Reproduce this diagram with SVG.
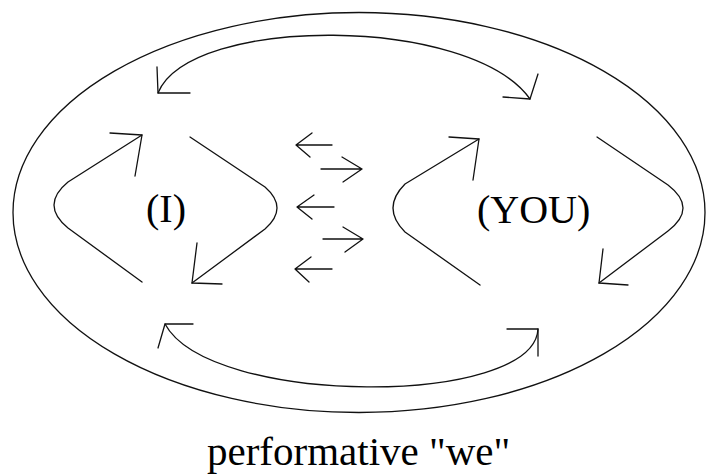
<svg xmlns="http://www.w3.org/2000/svg" width="706" height="475" viewBox="0 0 706 475">
<style>
.ln{fill:none;stroke:#111;stroke-width:1.3;stroke-linecap:round;stroke-linejoin:round}
text{font-family:'Liberation Serif','DejaVu Serif',serif;fill:#000}
</style>
<rect width="706" height="475" fill="#fff"/>
<g id="we">
<ellipse class="ln" cx="359" cy="212.5" rx="346" ry="200"/>
<text x="207" y="465" font-size="41" font-family="Liberation Serif, serif">performative "we"</text>
</g>
<g id="node-I">
<text x="146" y="222" font-size="40" font-family="Liberation Serif, serif">(I)</text>
</g>
<g id="node-YOU">
<text x="477" y="223" font-size="40" font-family="Liberation Serif, serif">(YOU)</text>
</g>
<g id="connectors" class="ln">
<path d="M158,93 C190,15 470,15 530,99"/>
<path d="M157,67 L158,93 L190,93"/>
<path d="M503,97 L530,99 L538,74"/>
<path d="M165,324 C210,407 534,407 538,329"/>
<path d="M193,324 L165,324 L158,348"/>
<path d="M507,329 L538,329 L538,356"/>
<path d="M142,135 L68,182 Q40,205 68,228 L142,282"/>
<path d="M110,133 L142,135 L135,176"/>
<path d="M190,137 L265,187 Q289,208 265,229 L192,283"/>
<path d="M197,243 L192,283 L222,284"/>
<path d="M479,139 L405,184 Q381,208 405,232 L480,285"/>
<path d="M449,137 L479,139 L473,180"/>
<path d="M597,137 L668,185 Q698,208 668,231 L599,283"/>
<path d="M603,249 L599,283 L628,285"/>
<path d="M332,145 L296,145 M312,133 L296,145 L310,157"/>
<path d="M321,169 L362,169 M342,157 L362,169 L343,182"/>
<path d="M334,207 L297,207 M314,195 L297,207 L312,219"/>
<path d="M323,239 L363,239 M343,227 L363,239 L345,252"/>
<path d="M332,269 L295,269 M311,257 L295,269 L309,282"/>
</g>
</svg>
